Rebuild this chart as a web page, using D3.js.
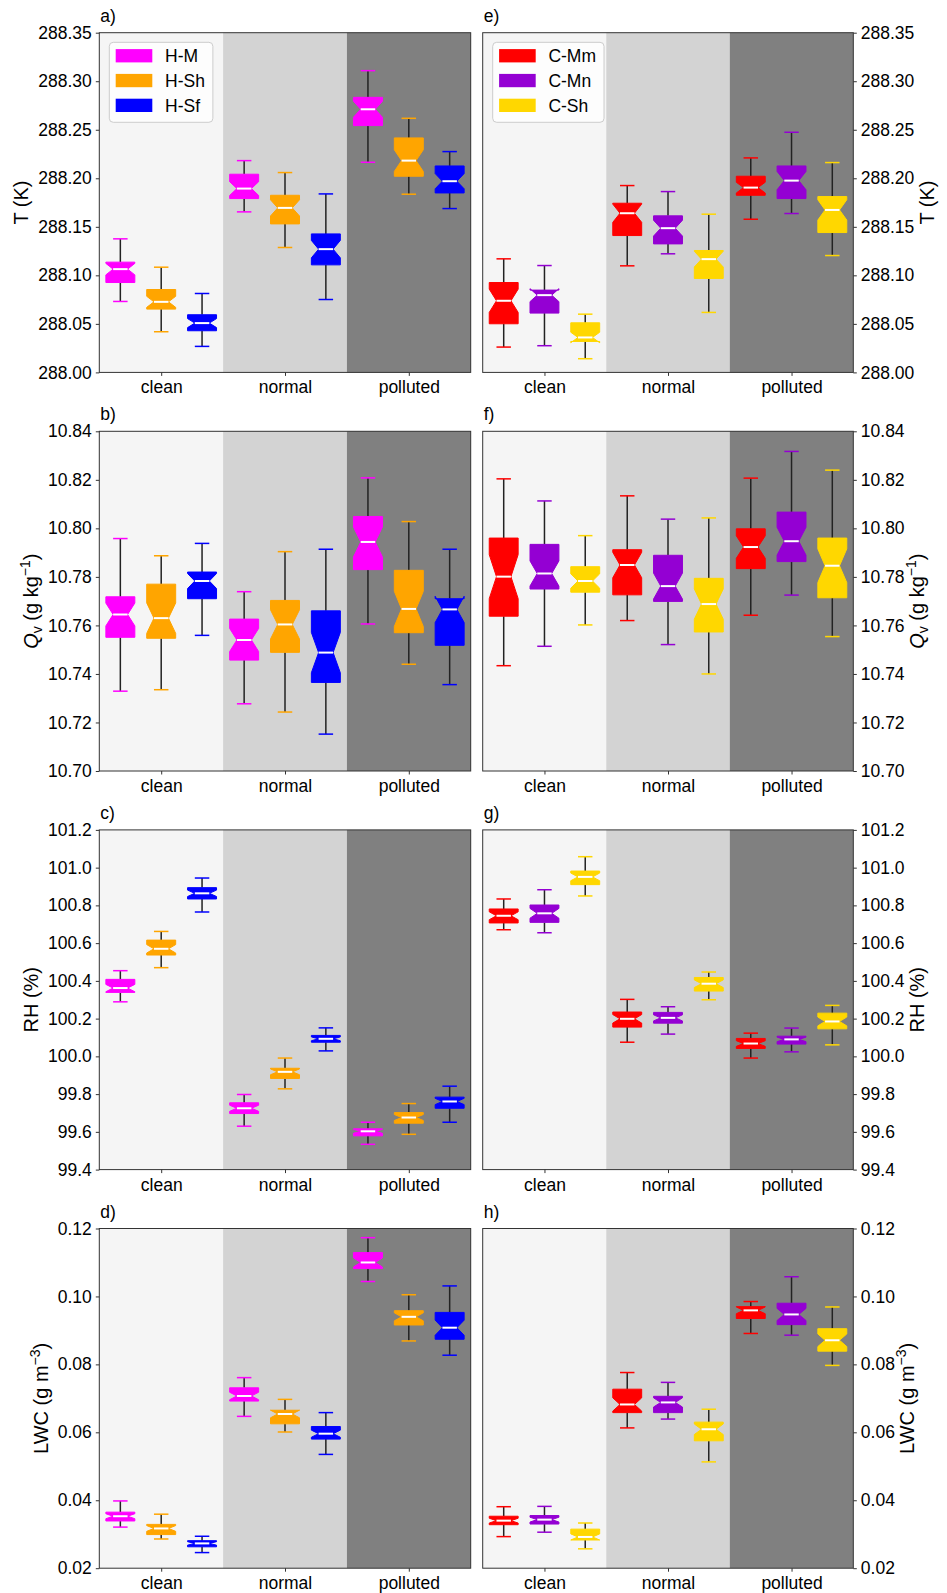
<!DOCTYPE html>
<html lang="en">
<head>
<meta charset="UTF-8">
<title>Notched box plots</title>
<script src="https://d3js.org/d3.v7.min.js"></script>
<style>
  body { margin: 0; background: #fff; }
  svg text { font-family: "Liberation Sans", Arial, sans-serif; fill: #000; }
</style>
</head>
<body>
<div id="chart"></div>
<script>
// categories and series
const conditions = ['clean', 'normal', 'polluted'];
const bandColors = ['#f5f5f5', '#d3d3d3', '#808080'];
const hSeries = ['H-M', 'H-Sh', 'H-Sf'];
const hColors = ['#ff00ff', '#ffa500', '#0000ff'];
const cSeries = ['C-Mm', 'C-Mn', 'C-Sh'];
const cColors = ['#ff0000', '#9400d3', '#ffd700'];
const nSamples = 31; // used for notch size, 1.57*IQR/sqrt(n)

// [condition][series] = [whisker low, q1, median, q3, whisker high]
const tempH = [
  [[288.0731, 288.0926, 288.1064, 288.1136, 288.1376], [288.0419, 288.0652, 288.0727, 288.0854, 288.1084], [288.0268, 288.0429, 288.0508, 288.0594, 288.0813]],
  [[288.1654, 288.1791, 288.1894, 288.2042, 288.2182], [288.1287, 288.1530, 288.1695, 288.1825, 288.2059], [288.0751, 288.1108, 288.1270, 288.1427, 288.1839]],
  [[288.2165, 288.2543, 288.2711, 288.2834, 288.3109], [288.1836, 288.2021, 288.2182, 288.2416, 288.2618], [288.1688, 288.1849, 288.1970, 288.2127, 288.2275]]
];
const tempC = [
  [[288.0261, 288.0501, 288.0738, 288.0926, 288.1170], [288.0275, 288.0611, 288.0796, 288.0848, 288.1101], [288.0141, 288.0319, 288.0360, 288.0511, 288.0600]],
  [[288.1098, 288.1410, 288.1640, 288.1743, 288.1925], [288.1222, 288.1324, 288.1486, 288.1613, 288.1863], [288.0618, 288.0968, 288.1167, 288.1256, 288.1630]],
  [[288.1578, 288.1825, 288.1904, 288.2021, 288.2210], [288.1637, 288.1791, 288.1976, 288.2127, 288.2474], [288.1204, 288.1441, 288.1674, 288.1812, 288.2162]]
];
const qvH = [
  [[10.7329, 10.7551, 10.7645, 10.7718, 10.7958], [10.7335, 10.7547, 10.7630, 10.7770, 10.7887], [10.7559, 10.7710, 10.7783, 10.7820, 10.7938]],
  [[10.7277, 10.7457, 10.7540, 10.7626, 10.7739], [10.7243, 10.7489, 10.7604, 10.7703, 10.7904], [10.7152, 10.7365, 10.7488, 10.7660, 10.7914]],
  [[10.7606, 10.7830, 10.7944, 10.8049, 10.8208], [10.7440, 10.7570, 10.7668, 10.7827, 10.8028], [10.7356, 10.7518, 10.7666, 10.7710, 10.7914]]
];
const qvC = [
  [[10.7434, 10.7638, 10.7801, 10.7960, 10.8204], [10.7514, 10.7750, 10.7814, 10.7934, 10.8113], [10.7602, 10.7737, 10.7783, 10.7842, 10.7970]],
  [[10.7620, 10.7726, 10.7849, 10.7912, 10.8134], [10.7521, 10.7699, 10.7762, 10.7889, 10.8038], [10.7400, 10.7573, 10.7688, 10.7794, 10.8043]],
  [[10.7642, 10.7834, 10.7923, 10.7998, 10.8207], [10.7725, 10.7863, 10.7947, 10.8067, 10.8317], [10.7554, 10.7714, 10.7846, 10.7960, 10.8240]]
];
const rhH = [
  [[100.289, 100.339, 100.362, 100.408, 100.454], [100.470, 100.537, 100.570, 100.616, 100.662], [100.765, 100.834, 100.864, 100.894, 100.945]],
  [[99.630, 99.697, 99.725, 99.754, 99.798], [99.828, 99.883, 99.918, 99.937, 99.991], [100.029, 100.075, 100.093, 100.111, 100.151]],
  [[99.534, 99.579, 99.603, 99.616, 99.651], [99.587, 99.646, 99.676, 99.702, 99.750], [99.651, 99.725, 99.761, 99.784, 99.842]]
];
const rhC = [
  [[100.671, 100.707, 100.745, 100.781, 100.834], [100.655, 100.710, 100.758, 100.802, 100.883], [100.850, 100.910, 100.951, 100.982, 101.058]],
  [[100.075, 100.155, 100.199, 100.235, 100.302], [100.118, 100.176, 100.204, 100.233, 100.263], [100.300, 100.346, 100.385, 100.418, 100.447]],
  [[99.991, 100.042, 100.068, 100.095, 100.123], [100.024, 100.065, 100.090, 100.107, 100.150], [100.061, 100.146, 100.185, 100.229, 100.270]]
];
const lwcH = [
  [[0.0321, 0.0339, 0.0353, 0.0365, 0.0398], [0.0286, 0.0299, 0.0317, 0.0329, 0.0359], [0.0246, 0.0263, 0.0273, 0.0281, 0.0294]],
  [[0.0647, 0.0692, 0.0707, 0.0731, 0.0761], [0.0601, 0.0625, 0.0654, 0.0665, 0.0697], [0.0535, 0.0580, 0.0596, 0.0617, 0.0658]],
  [[0.1044, 0.1082, 0.1100, 0.1129, 0.1173], [0.0869, 0.0916, 0.0940, 0.0958, 0.1005], [0.0827, 0.0874, 0.0908, 0.0953, 0.1031]]
];
const lwcC = [
  [[0.0293, 0.0328, 0.0340, 0.0353, 0.0381], [0.0306, 0.0330, 0.0343, 0.0355, 0.0382], [0.0257, 0.0283, 0.0292, 0.0315, 0.0333]],
  [[0.0613, 0.0658, 0.0682, 0.0727, 0.0776], [0.0639, 0.0658, 0.0688, 0.0706, 0.0747], [0.0513, 0.0575, 0.0609, 0.0630, 0.0668]],
  [[0.0891, 0.0935, 0.0959, 0.0970, 0.0985], [0.0886, 0.0917, 0.0947, 0.0980, 0.1058], [0.0797, 0.0839, 0.0871, 0.0905, 0.0969]]
];

// tick labels
const tTicks = [288.00, 288.05, 288.10, 288.15, 288.20, 288.25, 288.30, 288.35];
const qvTicks = [10.70, 10.72, 10.74, 10.76, 10.78, 10.80, 10.82, 10.84];
const rhTicks = [99.4, 99.6, 99.8, 100.0, 100.2, 100.4, 100.6, 100.8, 101.0, 101.2];
const lwcTicks = [0.02, 0.04, 0.06, 0.08, 0.10, 0.12];

const rows = [
  {key: 'T', ticks: tTicks, fmt: '.2f', data: [tempH, tempC]},
  {key: 'Qv', ticks: qvTicks, fmt: '.2f', data: [qvH, qvC]},
  {key: 'RH', ticks: rhTicks, fmt: '.1f', data: [rhH, rhC]},
  {key: 'LWC', ticks: lwcTicks, fmt: '.2f', data: [lwcH, lwcC]}
];
const letters = [['a', 'e'], ['b', 'f'], ['c', 'g'], ['d', 'h']];

const width = 947, height = 1593;
const cols = [{left: 99.3, right: 470.7}, {left: 482.7, right: 853.3}];
const firstTop = 32.7, rowStep = 398.6, plotH = 339.7;
const tickFont = '17.5px', labelFont = '20px';

const svg = d3.select('#chart').append('svg')
  .attr('width', width)
  .attr('height', height);

function axisLabel(t, key) {
  // builds the axis title, with sub/superscripts
  if (key === 'T') { t.text('T (K)'); return; }
  if (key === 'RH') { t.text('RH (%)'); return; }
  if (key === 'Qv') {
    t.append('tspan').style('font-style', 'italic').text('Q');
    t.append('tspan').attr('dy', 4).style('font-size', '14px').text('v');
    t.append('tspan').attr('dy', -4).text(' (g kg');
    t.append('tspan').attr('dy', -8).style('font-size', '14px').text('\u22121');
    t.append('tspan').attr('dy', 8).text(')');
    return;
  }
  t.append('tspan').text('LWC (g m');
  t.append('tspan').attr('dy', -8).style('font-size', '14px').text('\u22123');
  t.append('tspan').attr('dy', 8).text(')');
}

rows.forEach((row, r) => {
  const top = firstTop + r * rowStep;
  const bottom = top + plotH;
  cols.forEach((col, c) => {
    const series = c === 0 ? hSeries : cSeries;
    const colors = c === 0 ? hColors : cColors;
    const stats = row.data[c];

    const x = d3.scaleLinear().domain([0.5, 3.5]).range([col.left, col.right]);
    const y = d3.scaleLinear().domain([row.ticks[0], row.ticks[row.ticks.length - 1]]).range([bottom, top]);
    const g = svg.append('g');

    // background bands
    g.selectAll('rect.band')
      .data(conditions)
      .enter()
      .append('rect')
      .attr('class', 'band')
      .attr('x', (d, i) => x(i + 0.5))
      .attr('y', top)
      .attr('width', x(1) - x(0))
      .attr('height', plotH)
      .attr('fill', (d, i) => bandColors[i]);

    const hw = (x(0.117) - x(0));
    conditions.forEach((cond, ci) => {
      series.forEach((s, si) => {
        const [lo, q1, med, q3, hi] = stats[ci][si];
        const cx = x(ci + 1 + (si - 1) * 0.33);
        const nh = 1.57 * (q3 - q1) / Math.sqrt(nSamples);
        const nlo = med - nh, nhi = med + nh;
        const color = colors[si];

        // whiskers
        g.append('line').attr('x1', cx).attr('x2', cx).attr('y1', y(q3)).attr('y2', y(hi))
          .attr('stroke', '#222').attr('stroke-width', 1.5);
        g.append('line').attr('x1', cx).attr('x2', cx).attr('y1', y(q1)).attr('y2', y(lo))
          .attr('stroke', '#222').attr('stroke-width', 1.5);
        // caps
        [lo, hi].forEach(v => {
          g.append('line').attr('x1', cx - hw / 2).attr('x2', cx + hw / 2)
            .attr('y1', y(v)).attr('y2', y(v))
            .attr('stroke', color).attr('stroke-width', 1.5);
        });
        // notched box
        const p = d3.path();
        p.moveTo(cx - hw, y(q1));
        p.lineTo(cx - hw, y(nlo));
        p.lineTo(cx - hw / 2, y(med));
        p.lineTo(cx - hw, y(nhi));
        p.lineTo(cx - hw, y(q3));
        p.lineTo(cx + hw, y(q3));
        p.lineTo(cx + hw, y(nhi));
        p.lineTo(cx + hw / 2, y(med));
        p.lineTo(cx + hw, y(nlo));
        p.lineTo(cx + hw, y(q1));
        p.closePath();
        g.append('path').attr('d', p.toString())
          .attr('fill', color).attr('stroke', color).attr('stroke-width', 1);
        // median
        g.append('line').attr('x1', cx - hw / 2).attr('x2', cx + hw / 2)
          .attr('y1', y(med)).attr('y2', y(med))
          .attr('stroke', '#fff').attr('stroke-width', 2);
      });
    });

    // frame
    g.append('rect')
      .attr('x', col.left).attr('y', top)
      .attr('width', col.right - col.left).attr('height', plotH)
      .attr('fill', 'none').attr('stroke', '#333').attr('stroke-width', 1);

    // x axis
    const xAxis = g.append('g')
      .attr('transform', 'translate(0,' + bottom + ')')
      .call(d3.axisBottom(x).tickValues([1, 2, 3]).tickFormat((d, i) => conditions[i]).tickSize(3.5).tickPadding(5));
    // y axis
    const yAx = c === 0 ? d3.axisLeft(y) : d3.axisRight(y);
    const yAxis = g.append('g')
      .attr('transform', 'translate(' + (c === 0 ? col.left : col.right) + ',0)')
      .call(yAx.tickValues(row.ticks).tickFormat(d3.format(row.fmt)).tickSize(3.5).tickPadding(4));
    [xAxis, yAxis].forEach(a => {
      a.select('.domain').remove();
      a.selectAll('line').attr('stroke', '#333');
      a.selectAll('text').style('font-size', tickFont).style('font-family', '"Liberation Sans", Arial, sans-serif');
    });

    // y axis title
    const bb = yAxis.node().getBBox();
    const midY = (top + bottom) / 2;
    const labelX = c === 0 ? col.left + bb.x - 10 : col.right + bb.x + bb.width + 19;
    const lab = g.append('text')
      .attr('transform', 'translate(' + labelX + ',' + midY + ') rotate(-90)')
      .attr('text-anchor', 'middle')
      .style('font-size', labelFont);
    axisLabel(lab, row.key);

    // panel letter
    g.append('text')
      .attr('x', col.left + 1)
      .attr('y', top - 11)
      .style('font-size', tickFont)
      .text(letters[r][c] + ')');

    // legend in the top row
    if (r === 0) {
      const lg = g.append('g');
      const lx = col.left + 10, ly = top + 9.6;
      const box = lg.append('rect')
        .attr('x', lx).attr('y', ly)
        .attr('height', 80).attr('rx', 4)
        .attr('fill', '#fff').attr('fill-opacity', 0.8)
        .attr('stroke', '#ccc').attr('stroke-width', 1);
      let maxW = 0;
      series.forEach((s, si) => {
        const cy = ly + 13.4 + si * 24.8;
        lg.append('rect')
          .attr('x', lx + 6.4).attr('y', cy - 6.6)
          .attr('width', 36.6).attr('height', 13.3)
          .attr('fill', colors[si]);
        const t = lg.append('text')
          .attr('x', lx + 55.7).attr('y', cy)
          .attr('dy', '0.36em')
          .style('font-size', tickFont)
          .text(s);
        maxW = Math.max(maxW, t.node().getComputedTextLength());
      });
      box.attr('width', 55.7 + maxW + 8);
    }
  });
});
</script>
</body>
</html>
